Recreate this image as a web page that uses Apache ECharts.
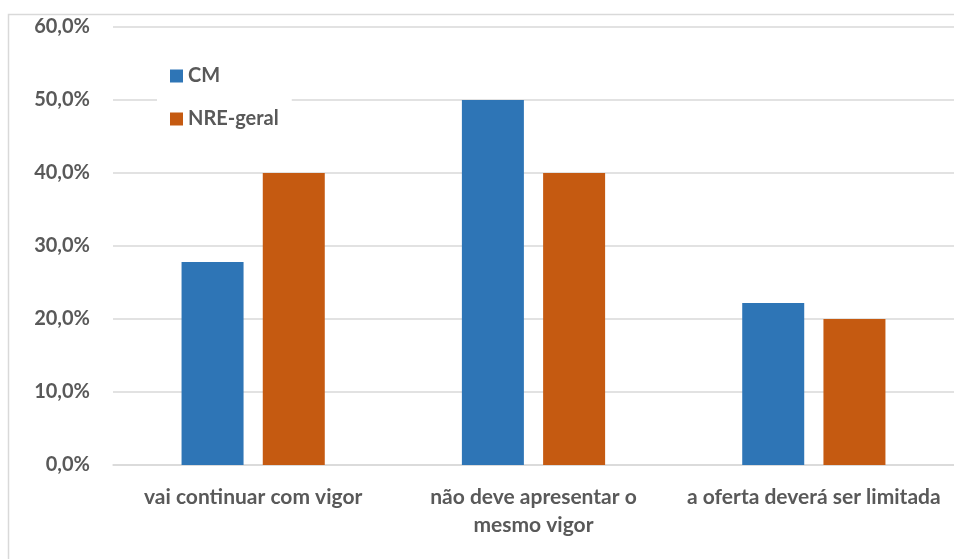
<!DOCTYPE html>
<html>
<head>
<meta charset="utf-8">
<script src="https://cdn.jsdelivr.net/npm/echarts@6/dist/echarts.min.js"></script>
<style>
  html, body { margin: 0; padding: 0; background: #fff; }
  #chart { width: 954px; height: 559px; }
</style>
</head>
<body>
<div id="chart"></div>
<script>
// Expectations for the sector, share of answers (%)
const categories = [
  'vai continuar com vigor',
  'não deve apresentar o\nmesmo vigor',
  'a oferta deverá ser limitada'
];
const seriesNames = ['CM', 'NRE-geral'];
const cmValues = [27.8, 50.0, 22.2];
const nreValues = [40.0, 40.0, 20.0];
const yTicks = [0, 10, 20, 30, 40, 50, 60];

const textGray = '#595959';
const gridGray = '#d9d9d9';
const fontFamily = 'Lato, "Open Sans", sans-serif';

const chart = echarts.init(document.getElementById('chart'));

chart.setOption({
  animation: false,
  backgroundColor: '#ffffff',
  graphic: [{
    type: 'rect',
    shape: { x: 8.5, y: 14.5, width: 960, height: 560 },
    style: { fill: 'none', stroke: gridGray, lineWidth: 1.5 },
    z: 0
  }],
  grid: { left: 113, top: 27, width: 843, bottom: 94 },
  legend: {
    orient: 'vertical',
    left: 157,
    top: 55,
    padding: [11, 13, 11, 13],
    backgroundColor: '#ffffff',
    itemWidth: 13,
    itemHeight: 13,
    itemGap: 23,
    icon: 'rect',
    textStyle: { color: textGray, fontSize: 20, fontWeight: 'bold', fontFamily: fontFamily },
    data: seriesNames,
    z: 10
  },
  xAxis: {
    type: 'category',
    data: categories,
    axisLine: { lineStyle: { color: gridGray, width: 1.5 } },
    axisTick: { show: false },
    axisLabel: {
      color: textGray,
      fontSize: 21,
      fontWeight: 'bold',
      fontFamily: fontFamily,
      margin: 18,
      lineHeight: 28,
      interval: 0
    }
  },
  yAxis: {
    type: 'value',
    min: yTicks[0],
    max: yTicks[yTicks.length - 1],
    interval: yTicks[1] - yTicks[0],
    axisLine: { show: false },
    axisTick: { show: false },
    splitLine: { lineStyle: { color: gridGray, width: 1.5 } },
    axisLabel: {
      color: textGray,
      fontSize: 20,
      fontWeight: 'bold',
      fontFamily: fontFamily,
      margin: 23,
      formatter: v => v.toFixed(1).replace('.', ',') + '%'
    }
  },
  series: [
    {
      name: seriesNames[0],
      type: 'bar',
      data: cmValues,
      barWidth: 62,
      barGap: '31%',
      itemStyle: { color: '#2e75b6' }
    },
    {
      name: seriesNames[1],
      type: 'bar',
      data: nreValues,
      barWidth: 62,
      itemStyle: { color: '#c55a11' }
    }
  ]
});
</script>
</body>
</html>
